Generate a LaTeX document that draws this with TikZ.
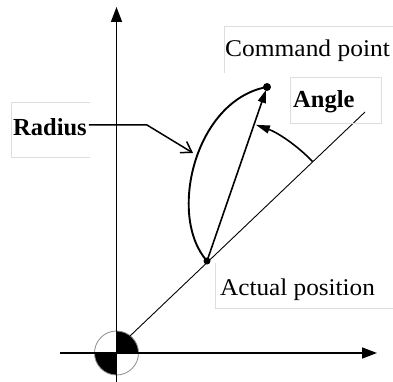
\documentclass[tikz,border=0pt]{standalone}
\usepackage{fontspec}
\setmainfont{Liberation Serif}
\usetikzlibrary{arrows.meta,calc}
\begin{document}
\begin{tikzpicture}[x=1pt,y=-1pt,
  axisline/.style={line width=1.6pt,-{Triangle[length=15pt,width=11pt]}},
  diagline/.style={line width=0.9pt},
  curveline/.style={line width=1.9pt},
  faintbox/.style={draw=black!13,line width=0.8pt},
  lbl/.style={font=\fontsize{24}{28}\selectfont,anchor=base west,inner sep=0pt},
  blbl/.style={font=\fontsize{24.5}{28}\selectfont\bfseries,anchor=base west,inner sep=0pt},
  ptdot/.style={circle,fill=black,inner sep=0pt,minimum size=#1}]
\useasboundingbox (0,0) rectangle (393,382);

% key points
\coordinate (O) at (116.5,353);
\coordinate (Ybot) at (116.5,382);
\coordinate (Ytop) at (116.5,7);
\coordinate (Xl) at (60,353);
\coordinate (Xr) at (377,353);
\coordinate (Ds) at (130,336);
\coordinate (E) at (365,112);
\coordinate (Bend) at (147,125);
\coordinate (Rtip) at (193,153);

% origin symbol
\fill[black] (O) -- +(22,0) arc[start angle=0,end angle=-90,radius=22] -- cycle;
\fill[black] (O) -- +(-22,0) arc[start angle=180,end angle=90,radius=22] -- cycle;
\draw[black!45,line width=0.8pt] (O) circle[radius=22];

% axes
\draw[line width=1.6pt] (Ybot) -- (O);
\draw[axisline] (O) -- (Ytop);
\draw[axisline] (Xl) -- (Xr);

% diagonal line
\draw[diagline] (Ds) -- (E);

% points
\node[ptdot=7pt] (A) at (207,261) {};
\node[ptdot=8pt] (C) at (267,87) {};

% path curve
\draw[curveline] (A.center) .. controls (167,216) and (195,100) .. (C.center);
% straight radius vector
\draw[line width=1.6pt,-{Triangle[length=13pt,width=8pt]},shorten >=3pt] (A.center) -- (C.center);
% angle arc
\draw[line width=1.6pt,-{Triangle[length=14pt,width=8pt]}]
  ($(A.center)!145pt!(E)$) arc[start angle=-43.6,end angle=-70.5,radius=145];

% labels
\node[blbl] (Rlab) at (13,136) {Radius};
\node[lbl] (Clab) at (225,57) {\scalebox{1.06}[1]{Command point}};
\node[blbl] (Alab) at (293,108) {Angle};
\node[lbl] (Plab) at (220,295) {\scalebox{1.05}[1]{Actual position}};

% faint text boxes
\draw[faintbox] (90,102) -- (11,102) -- (11,157) -- (90,157);
\draw[faintbox] (393,26) -- (224,26) -- (224,73);
\draw[faintbox] (290,77) rectangle (381,123);
\draw[faintbox] (215,263) -- (215,308) -- (393,308);

% radius leader
\draw[line width=1.5pt,-{Straight Barb[length=10pt,width=13pt]}] ([xshift=2pt]Rlab.east |- Bend) -- (Bend) -- (Rtip);
\end{tikzpicture}
\end{document}
